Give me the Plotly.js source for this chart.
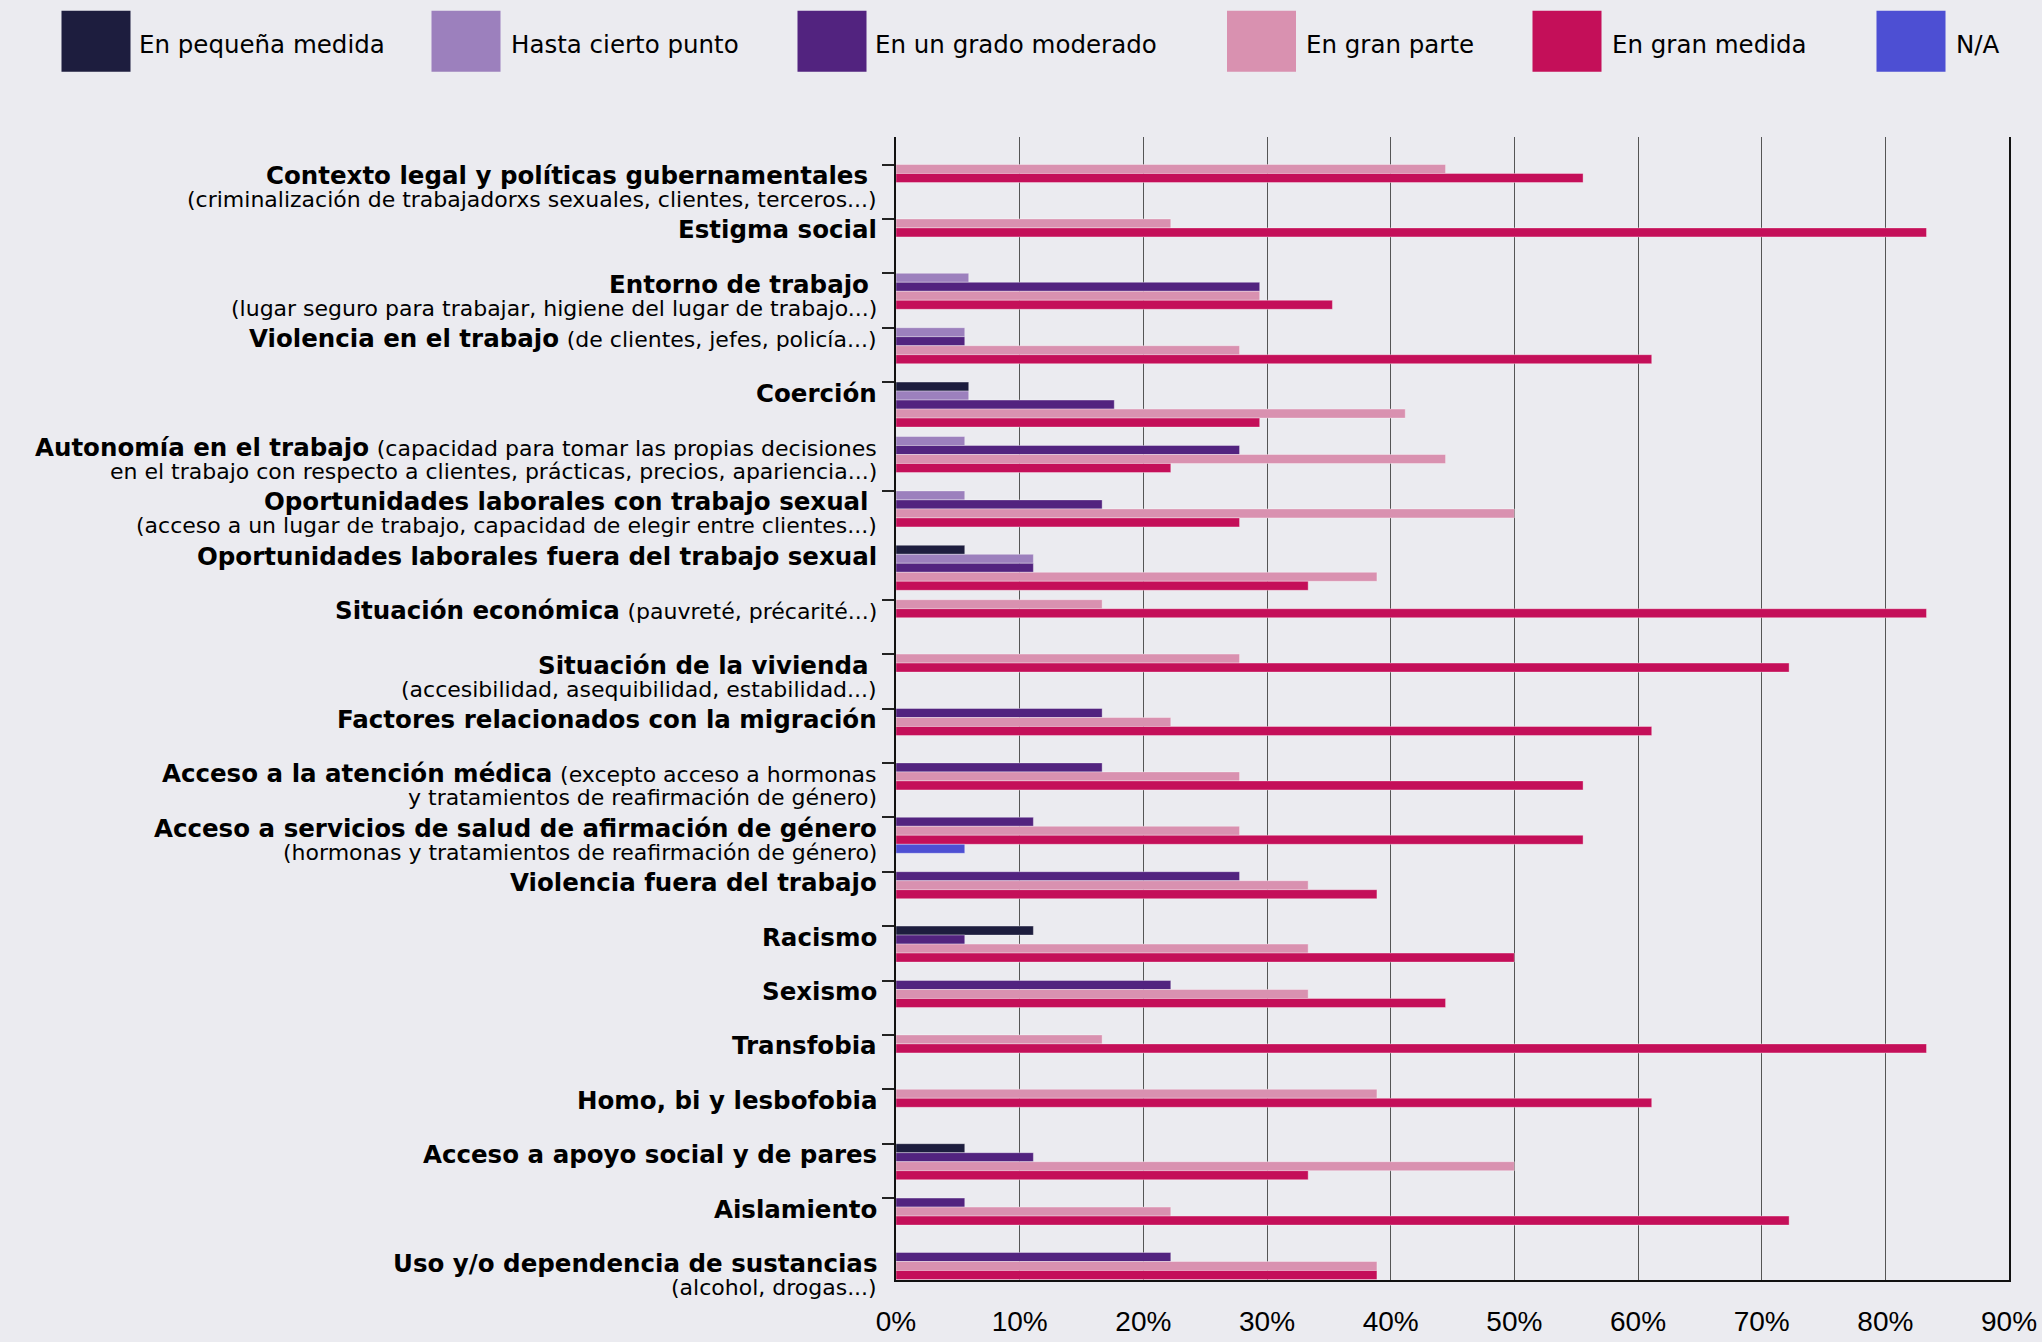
<!DOCTYPE html>
<html><head><meta charset="utf-8">
<script src="https://cdn.plot.ly/plotly-3.0.1.min.js"></script>
<style>html,body{margin:0;padding:0;background:#ebebf0;}#chart{width:2042px;height:1342px;}</style>
</head><body><div id="chart"></div>
<script>
// ---------- DATA ----------
const categories = [
  "Contexto legal y políticas gubernamentales\u00a0",
  "Estigma social",
  "Entorno de trabajo\u00a0",
  "Violencia en el trabajo",
  "Coerción",
  "Autonomía en el trabajo",
  "Oportunidades laborales con trabajo sexual\u00a0",
  "Oportunidades laborales fuera del trabajo sexual",
  "Situación económica",
  "Situación de la vivienda\u00a0",
  "Factores relacionados con la migración",
  "Acceso a la atención médica",
  "Acceso a servicios de salud de afirmación de género",
  "Violencia fuera del trabajo",
  "Racismo",
  "Sexismo",
  "Transfobia",
  "Homo, bi y lesbofobia",
  "Acceso a apoyo social y de pares",
  "Aislamiento",
  "Uso y/o dependencia de sustancias"
];
// "\n" = line break; a leading "\n" puts the note on the next line
const notes = [
  "\n(criminalización de trabajadorxs sexuales, clientes, terceros...)",
  "",
  "\n(lugar seguro para trabajar, higiene del lugar de trabajo...)",
  "(de clientes, jefes, policía...)",
  "",
  "(capacidad para tomar las propias decisiones\nen el trabajo con respecto a clientes, prácticas, precios, apariencia...)",
  "\n(acceso a un lugar de trabajo, capacidad de elegir entre clientes...)",
  "",
  "(pauvreté, précarité...)",
  "\n(accesibilidad, asequibilidad, estabilidad...)",
  "",
  "(excepto acceso a hormonas\ny tratamientos de reafirmación de género)",
  "\n(hormonas y tratamientos de reafirmación de género)",
  "", "", "", "", "", "", "",
  "\n(alcohol, drogas...)"
];
const seriesNames = ["En pequeña medida", "Hasta cierto punto", "En un grado moderado", "En gran parte", "En gran medida", "N/A"];
const seriesColors = ["#1d1d3e", "#9c80bd", "#52237f", "#d991b0", "#c40f59", "#4d4fd3"];

const enPequenaMedida   = [0,0,0,0,5.88,0,0,5.56,0,0,0,0,0,0,11.11,0,0,0,5.56,0,0];
const hastaCiertoPunto  = [0,0,5.88,5.56,5.88,5.56,5.56,11.11,0,0,0,0,0,0,0,0,0,0,0,0,0];
const gradoModerado     = [0,0,29.41,5.56,17.65,27.78,16.67,11.11,0,0,16.67,16.67,11.11,27.78,5.56,22.22,0,0,11.11,5.56,22.22];
const enGranParte       = [44.44,22.22,29.41,27.78,41.18,44.44,50,38.89,16.67,27.78,22.22,27.78,27.78,33.33,33.33,33.33,16.67,38.89,50,22.22,38.89];
const enGranMedida      = [55.56,83.33,35.29,61.11,29.41,22.22,27.78,33.33,83.33,72.22,61.11,55.56,55.56,38.89,50,44.44,83.33,61.11,33.33,72.22,38.89];
const noAplica          = [0,0,0,0,0,0,0,0,0,0,0,0,5.56,0,0,0,0,0,0,0,0];
const seriesValues = [enPequenaMedida, hastaCiertoPunto, gradoModerado, enGranParte, enGranMedida, noAplica];

const xTicks = [0,10,20,30,40,50,60,70,80,90];
const xTickLabels = ["0%","10%","20%","30%","40%","50%","60%","70%","80%","90%"];
const hiddenTicks = [5, 7, 20];

// ---------- LAYOUT CONSTANTS ----------
const W = 2042, H = 1342;
const M = {l: 896, r: 33, t: 137, b: 62};
const plotW = W - M.l - M.r, plotH = H - M.t - M.b;
const padTop = 27.5, padBot = 27.5;
const unit = (plotH - padTop - padBot) / (categories.length - 1);
const BAR_W = 9 / unit;
const BG = "#ebebf0";
const BOLD_FAMILY = "DejaVu Sans";
const NOTE_FAMILY = "DejaVu Sans";
const BOLD_SIZE = 24.5, NOTE_SIZE = 22;

// ---------- TRACES ----------
const idx = categories.map((_, i) => i);
const slotCount = idx.map(() => 0);
const traces = seriesNames.map((name, s) => {
  const vals = seriesValues[s];
  const xs = [], offs = [];
  idx.forEach(i => {
    if (vals[i] > 0) {
      xs.push(vals[i]);
      offs.push(slotCount[i] * BAR_W);
      slotCount[i]++;
    } else {
      xs.push(null);
      offs.push(0);
    }
  });
  return {
    type: "bar", orientation: "h", name: name,
    y: idx, x: xs, width: BAR_W, offset: offs,
    marker: {color: seriesColors[s], line: {color: "rgba(255,255,255,0.35)", width: 1}},
    hovertemplate: name + ": %{x:.1f}%<extra></extra>",
    showlegend: false
  };
});

// ---------- LABEL ANNOTATIONS ----------
const annotations = [];
const noteSpan = t => '<span style="font-family:' + NOTE_FAMILY + ';font-size:' + NOTE_SIZE + 'px;font-weight:normal">' + t + '</span>';
categories.forEach((cat, i) => {
  const parts = notes[i] ? notes[i].split("\n") : [""];
  const first = "<b>" + cat + "</b>" + (parts[0] ? " " + noteSpan(parts[0]) : "");
  annotations.push({
    xref: "paper", x: 0, xanchor: "right", xshift: -17,
    yref: "y", y: i, yanchor: "top", yshift: 5.5,
    text: first, showarrow: false, align: "right",
    font: {family: BOLD_FAMILY, size: BOLD_SIZE, color: "#000"}
  });
  parts.slice(1).forEach((ln, k) => {
    annotations.push({
      xref: "paper", x: 0, xanchor: "right", xshift: -17,
      yref: "y", y: i, yanchor: "top", yshift: -20.5 - k * 25,
      text: ln, showarrow: false, align: "right",
      font: {family: NOTE_FAMILY, size: NOTE_SIZE, color: "#000"}
    });
  });
});

// ---------- CUSTOM LEGEND ----------
const legendSwatchX = [61.5, 431.5, 797.5, 1227, 1532.5, 1876.5];
const legendTextX = [137, 509, 873, 1304, 1610, 1954];
const swatchW = 69, swatchTop = 10.7, swatchBot = 71.7, legendTextY = 44.8;
const pxX = px => (px - M.l) / plotW;
const pxY = py => 1 - (py - M.t) / plotH;
const shapes = [];
seriesNames.forEach((name, s) => {
  shapes.push({
    type: "rect", xref: "paper", yref: "paper",
    x0: pxX(legendSwatchX[s]), x1: pxX(legendSwatchX[s] + swatchW),
    y0: pxY(swatchBot), y1: pxY(swatchTop),
    fillcolor: seriesColors[s], line: {width: 0}
  });
  annotations.push({
    xref: "paper", yref: "paper", x: pxX(legendTextX[s]), y: pxY(legendTextY),
    xanchor: "left", yanchor: "middle", text: name, showarrow: false,
    font: {family: "DejaVu Sans", size: 24.5, color: "#000"}
  });
});

const layout = {
  width: W, height: H,
  margin: M,
  paper_bgcolor: BG, plot_bgcolor: BG,
  barmode: "overlay",
  showlegend: false,
  xaxis: {
    range: [0, 90], tickmode: "array", tickvals: xTicks, ticktext: xTickLabels,
    showgrid: true, gridcolor: "#555", gridwidth: 1.3,
    showline: true, linecolor: "#111", linewidth: 2,
    zeroline: false, ticks: "", ticklen: 0, ticklabelstandoff: 15,
    tickfont: {family: "Liberation Sans Narrow, Liberation Sans", size: 28, color: "#000"},
    fixedrange: true
  },
  yaxis: {
    range: [categories.length - 1 + padBot / unit, -padTop / unit],
    tickvals: idx.filter(i => hiddenTicks.indexOf(i) < 0),
    showticklabels: false, ticks: "outside", ticklen: 12, tickwidth: 2, tickcolor: "#222",
    showline: true, linecolor: "#111", linewidth: 2, mirror: true,
    showgrid: false, zeroline: false, fixedrange: true
  },
  annotations: annotations,
  shapes: shapes
};

Plotly.newPlot("chart", traces, layout, {displayModeBar: false, responsive: false});
</script></body></html>
